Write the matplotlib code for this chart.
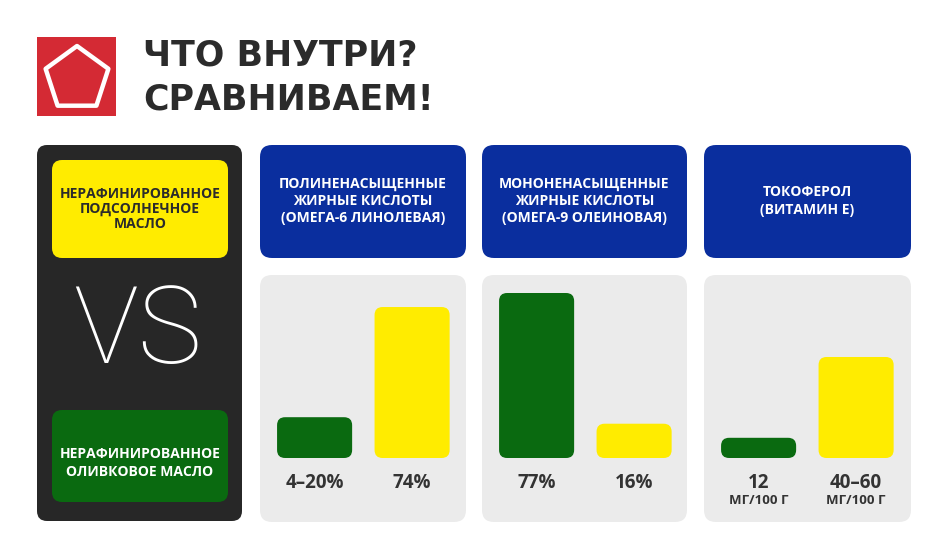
import matplotlib
matplotlib.use("Agg")
import numpy as np
import matplotlib.pyplot as plt
from matplotlib.patches import FancyBboxPatch, RegularPolygon, Rectangle

# ---------------- data ----------------
title_lines = ["ЧТО ВНУТРИ?", "СРАВНИВАЕМ!"]
oil_sunflower = "НЕРАФИНИРОВАННОЕ\nПОДСОЛНЕЧНОЕ\nМАСЛО"
oil_olive = "НЕРАФИНИРОВАННОЕ\nОЛИВКОВОЕ МАСЛО"
categories = ["ПОЛИНЕНАСЫЩЕННЫЕ\nЖИРНЫЕ КИСЛОТЫ\n(ОМЕГА-6 ЛИНОЛЕВАЯ)",
              "МОНОНЕНАСЫЩЕННЫЕ\nЖИРНЫЕ КИСЛОТЫ\n(ОМЕГА-9 ОЛЕИНОВАЯ)",
              "ТОКОФЕРОЛ\n(ВИТАМИН Е)"]
olive_values = [20, 77, 12]          # bar heights (upper bound of ranges)
sunflower_values = [74, 16, 60]
olive_labels = ["4–20%", "77%", "12"]
sunflower_labels = ["74%", "16%", "40–60"]
unit_labels = ["", "", "МГ/100 Г"]
scale_max = [89.7, 85.4, 108.7]      # per-panel value at top of plotting area

# ---------------- style ----------------
FONT = ["Open Sans", "DejaVu Sans"]
RED = "#d42a34"
DARK = "#272727"
YELLOW = "#ffec00"
GREEN = "#0a6a10"
BLUE = "#0a2e9e"
GREY = "#ebebeb"
TXT = "#2b2b2b"

W, H = 950, 551
fig = plt.figure(figsize=(W / 100, H / 100), dpi=100)
fig.patch.set_facecolor("white")
bg = fig.add_axes([0, 0, 1, 1])
bg.set_xlim(0, W)
bg.set_ylim(H, 0)
bg.axis("off")


def rbox(x0, y0, x1, y1, r, color, z=1):
    p = FancyBboxPatch((x0, y0), x1 - x0, y1 - y0,
                       boxstyle=f"round,pad=0,rounding_size={r}",
                       fc=color, ec="none", zorder=z)
    bg.add_patch(p)


# logo
bg.add_patch(Rectangle((37, 37), 79, 79, fc=RED, ec="none"))
bg.add_patch(RegularPolygon((77, 79), 5, radius=33, orientation=np.pi / 5,
                            fc="none", ec="white", lw=3.2, joinstyle="round"))
# title
TFONT = ["DejaVu Sans"]
bg.text(143, 55, title_lines[0], fontsize=25, fontweight="bold", color=TXT,
        va="center", ha="left", family=TFONT)
bg.text(143, 100, title_lines[1], fontsize=25, fontweight="bold", color=TXT,
        va="center", ha="left", family=TFONT)

# left dark panel
rbox(37, 145, 242, 521, 10, DARK)
rbox(52, 160, 228, 258, 10, YELLOW, 2)
rbox(52, 410, 228, 502, 10, GREEN, 2)
bg.text(140, 209, oil_sunflower, fontsize=10, fontweight="bold", color=TXT,
        ha="center", va="center", linespacing=1.12, family=FONT, zorder=3)
bg.text(140, 463, oil_olive, fontsize=10, fontweight="bold", color="white",
        ha="center", va="center", linespacing=1.3, family=FONT, zorder=3)
bg.text(138, 333, "VS", fontsize=78, fontweight="light", color="white",
        ha="center", va="center", family=["Roboto", "Open Sans", "DejaVu Sans"], zorder=3)

# category panels
panel_x = [(260, 466), (482, 687), (704, 911)]
for (x0, x1), cat in zip(panel_x, categories):
    rbox(x0, 145, x1, 258, 12, BLUE)
    rbox(x0, 275, x1, 522, 12, GREY)
    bg.text((x0 + x1) / 2, 201, cat, fontsize=10, fontweight="bold", color="white",
            ha="center", va="center", linespacing=1.3, family=FONT, zorder=3)

# bar axes
base_px = 458
top_px = 275
unit_px = 97.5
bar_w = 0.77
for i, (x0, x1) in enumerate(panel_x):
    axw = x1 - x0
    ax = fig.add_axes([x0 / W, (H - base_px) / H, axw / W, (base_px - top_px) / H])
    ax.patch.set_alpha(0)
    ax.axis("off")
    xmin = -0.56
    ax.set_xlim(xmin, xmin + axw / unit_px)
    ax.set_ylim(0, scale_max[i])
    ypx = (base_px - top_px) / scale_max[i]
    aspect = unit_px / ypx
    r = 8 / unit_px
    for xpos, val, col, lab in [(0, olive_values[i], GREEN, olive_labels[i]),
                                (1, sunflower_values[i], YELLOW, sunflower_labels[i])]:
        ax.add_patch(FancyBboxPatch((xpos - bar_w / 2, 0), bar_w, val,
                                    boxstyle=f"round,pad=0,rounding_size={r}",
                                    mutation_aspect=aspect, fc=col, ec="none",
                                    clip_on=False))
        ax.annotate(lab, xy=(xpos, 0), xytext=(0, -18), textcoords="offset points",
                    ha="center", va="center", fontsize=13.5, fontweight="bold",
                    color="#333333", family=FONT, annotation_clip=False)
        if unit_labels[i]:
            ax.annotate(unit_labels[i], xy=(xpos, 0), xytext=(0, -30.5),
                        textcoords="offset points", ha="center", va="center",
                        fontsize=9.5, fontweight="bold", color="#333333", family=FONT,
                        annotation_clip=False)

fig.savefig("out.png", dpi=100, facecolor="white")
